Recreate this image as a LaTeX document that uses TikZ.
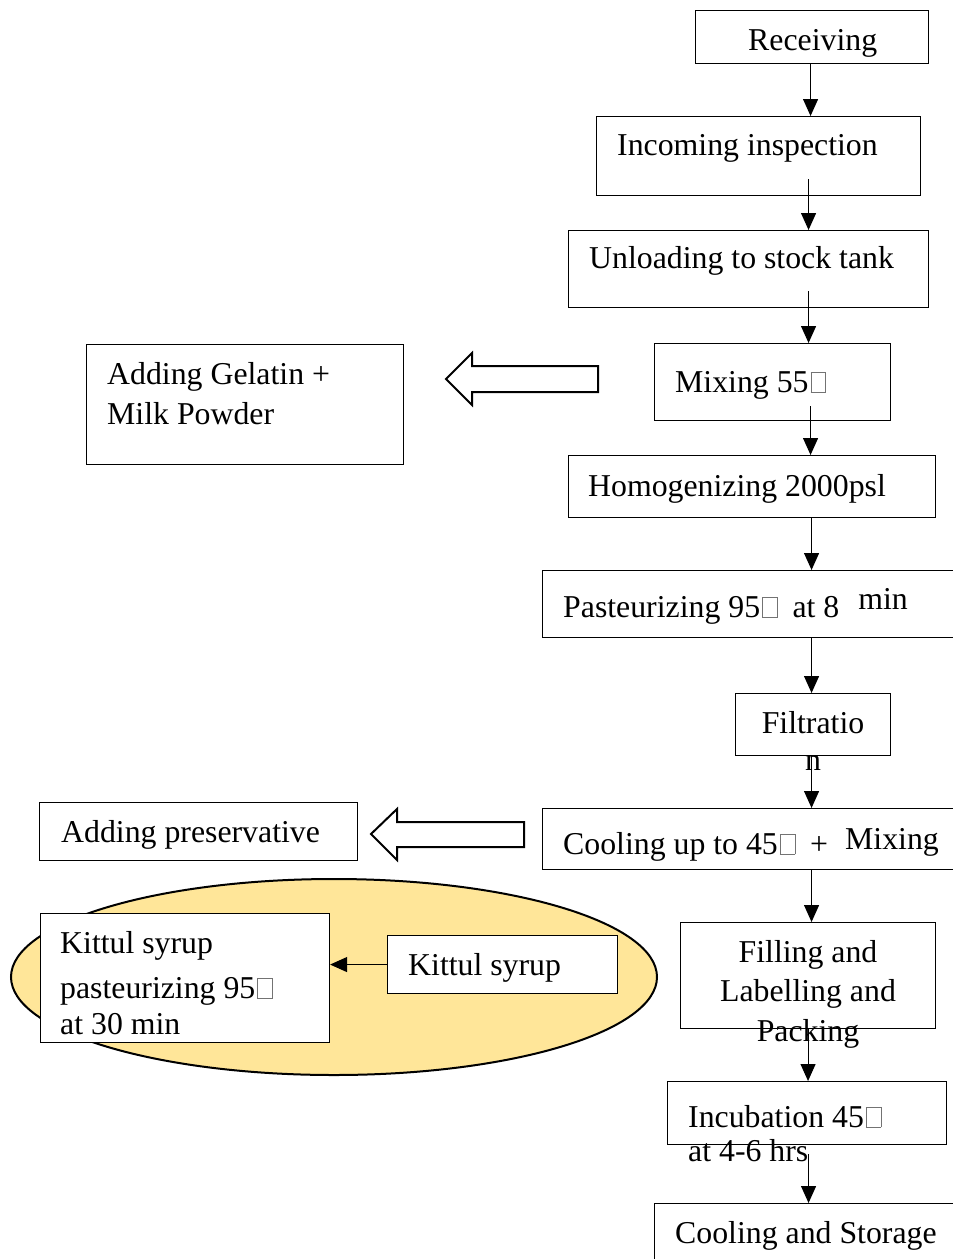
\documentclass[tikz,border=0pt]{standalone}
\usepackage{fontspec}
\setmainfont{Liberation Serif}
\usetikzlibrary{arrows.meta,shapes.geometric}
\definecolor{syrupfill}{RGB}{255,230,153}
% placeholder glyph box, as printed for the missing degree sign
\newcommand{\tofu}{\hspace{0.06em}{\color{black!55}\fboxsep=0pt\fboxrule=0.6pt\fbox{\rule{0pt}{0.62em}\hspace{0.45em}}}\hspace{0.22em}}
\begin{document}
\begin{tikzpicture}[x=1pt,y=-1pt,
  stepbox/.style={draw, line width=1.1pt, anchor=north west, inner sep=0pt},
  txt/.style={anchor=base west, inner sep=0pt, font=\fontsize{31.8}{40}\selectfont},
  conn/.style={draw, line width=1.1pt, -{Triangle[length=17pt,width=15pt]}},
  hollow/.style={draw, line width=2pt, line join=miter, fill=white}]
\clip (0,0) rectangle (953,1259);
\fill[white] (0,0) rectangle (953,1259);

% main process column
\node[stepbox, minimum width=233pt, minimum height=53pt] (rec) at (695,10) {};
\node[stepbox, minimum width=324pt, minimum height=79pt] (insp) at (596,116) {};
\node[stepbox, minimum width=360pt, minimum height=77pt] (unload) at (568,230) {};
\node[stepbox, minimum width=236pt, minimum height=77pt] (mix) at (654,343) {};
\node[stepbox, minimum width=367pt, minimum height=62pt] (homog) at (568,455) {};
\node[stepbox, minimum width=450pt, minimum height=67pt] (past) at (542,570) {};
\node[stepbox, minimum width=155pt, minimum height=62pt] (filt) at (735,693) {};
\node[stepbox, minimum width=450pt, minimum height=61pt] (cool) at (542,808) {};
\node[stepbox, minimum width=255pt, minimum height=106pt] (fill) at (680,922) {};
\node[stepbox, minimum width=279pt, minimum height=63pt] (incub) at (667,1081) {};
\node[stepbox, minimum width=350pt, minimum height=100pt] (store) at (654,1203) {};

% side additions
\node[stepbox, minimum width=317pt, minimum height=120pt] (gel) at (86,344) {};
\node[stepbox, minimum width=318pt, minimum height=58pt] (pres) at (39,802) {};

% kittul syrup preparation group
\node[ellipse, draw, line width=2pt, fill=syrupfill, minimum width=646pt, minimum height=196pt, inner sep=0pt] (pot) at (334,977) {};
\node[stepbox, fill=white, minimum width=289pt, minimum height=129pt] (ksp) at (40,913) {};
\node[stepbox, fill=white, minimum width=230pt, minimum height=58pt] (ksy) at (387,935) {};

% hollow arrows pointing to the additions
\draw[hollow] (446,379) -- (472,353) -- (472,366) -- (598,366) -- (598,392) -- (472,392) -- (472,405) -- cycle;
\draw[hollow] (371,834) -- (397,809) -- (397,822) -- (524,822) -- (524,847) -- (397,847) -- (397,860) -- cycle;

% labels (multi-line labels are placed by the baseline of their last line)
\node[txt] (trec) at (748,50) {Receiving};
\node[txt] (tinsp) at (617,155) {Incoming inspection};
\node[txt] (tunload) at (589,268) {Unloading to stock tank};
\node[txt] (tmix) at (675,392) {Mixing 55\tofu};
\node[txt] (thomog) at (588,496) {Homogenizing 2000psl};
\node[txt] (tpast) at (563,617) {Pasteurizing 95\tofu{} at 8\hspace{19pt}\raisebox{8pt}{min}};
\node[txt, anchor=base, align=center, font=\fontsize{31.8}{37}\selectfont] (tfilt) at (813,770) {Filtratio\\n};
\node[txt] (tcool) at (563,854) {Cooling up to 45\tofu{} +\hspace{17pt}\raisebox{5pt}{Mixing}};
\node[txt, anchor=base, align=center, font=\fontsize{31.8}{39.5}\selectfont] (tfill) at (808,1041) {Filling and\\Labelling and\\Packing};
\node[txt, align=left, font=\fontsize{31.8}{34}\selectfont] (tincub) at (688,1161) {Incubation 45\tofu\\at 4-6 hrs};
\node[txt] (tstore) at (675,1243) {Cooling and Storage};
\node[txt, align=left] (tgel) at (107,424) {Adding Gelatin +\\Milk Powder};
\node[txt] (tpres) at (61,842) {Adding preservative};
\node[txt, align=left, font=\fontsize{31.8}{36}\selectfont] (tksp) at (60,1034) {Kittul syrup\\[9pt]pasteurizing 95\tofu\\at 30 min};
\node[txt] (tksy) at (408,975) {Kittul syrup};

% flow connectors
\draw[conn] ([xshift=-1.5pt]rec.south) coordinate (c1) -- (c1 |- insp.north);
\draw[conn] ([xshift=50pt,yshift=17pt]insp.south) coordinate (c2) -- (c2 |- unload.north);
\draw[conn] ([xshift=60pt,yshift=17pt]unload.south) coordinate (c3) -- (c3 |- mix.north);
\draw[conn] ([xshift=38pt,yshift=15pt]mix.south) coordinate (c4) -- (c4 |- homog.north);
\draw[conn] ([xshift=59.5pt]homog.south) coordinate (c5) -- (c5 |- past.north);
\draw[conn] ([xshift=-1.5pt]filt.north |- past.south) coordinate (c6) -- (c6 |- filt.north);
\draw[conn] ([xshift=-1.5pt]filt.south) coordinate (c7) -- (c7 |- cool.north);
\draw[conn] ([xshift=3.5pt]fill.north |- cool.south) coordinate (c8) -- (c8 |- fill.north);
\draw[conn] (fill.south) -- (fill.south |- incub.north);
\draw[conn] ([xshift=1.5pt,yshift=-9pt]incub.south) coordinate (c10) -- (c10 |- store.north);
\draw[conn] (ksy.west) -- (ksy.west -| ksp.east);
\end{tikzpicture}
\end{document}
